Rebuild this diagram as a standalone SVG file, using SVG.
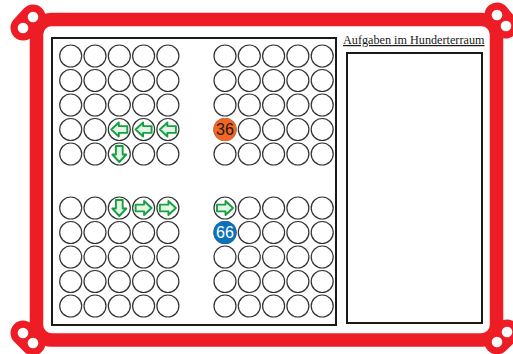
<svg xmlns="http://www.w3.org/2000/svg" xmlns:xlink="http://www.w3.org/1999/xlink" width="513" height="354" viewBox="0 0 513 354">
  <style>
    .frame { fill: none; stroke: #ee1c24; stroke-width: 13.5; }
    .lobe { stroke: #ee1c24; stroke-width: 25; stroke-linecap: round; }
    .hole { fill: #ffffff; }
    .box { fill: #ffffff; stroke: #1a1a1a; stroke-width: 2; }
    .c { fill: #ffffff; stroke: #333333; stroke-width: 1.2; }
    .arrow { fill: #e4f5e8; stroke: #16a040; stroke-width: 1.9; stroke-linejoin: round; }
    .title { font-family: "Liberation Serif", "Times New Roman", serif; font-size: 12.2px; fill: #1a1a1a; text-decoration: underline; }
    .num { font-family: "Liberation Sans", Arial, sans-serif; font-size: 16px; text-anchor: middle; }
  </style>
  <defs>
    <g id="row5">
      <circle class="c" cx="0" cy="0" r="11"/>
      <circle class="c" cx="24.3" cy="0" r="11"/>
      <circle class="c" cx="48.6" cy="0" r="11"/>
      <circle class="c" cx="72.9" cy="0" r="11"/>
      <circle class="c" cx="97.2" cy="0" r="11"/>
    </g>
    <path id="arr" class="arrow" d="M-8,-3.4 H0.5 V-7 L8,0 L0.5,7 V3.4 H-8 Z"/>
  </defs>

  <rect width="513" height="354" fill="#ffffff"/>

  <g id="frame">
    <rect class="frame" x="36.5" y="19.5" width="460" height="320.5" rx="15"/>
    <line class="lobe" x1="33" y1="17" x2="23" y2="28"/>
    <line class="lobe" x1="497" y1="15" x2="506" y2="26"/>
    <line class="lobe" x1="23" y1="333" x2="33" y2="343"/>
    <line class="lobe" x1="497" y1="342" x2="507" y2="332"/>
    <circle class="hole" cx="33" cy="17" r="5.3"/>
    <circle class="hole" cx="23" cy="28" r="5.3"/>
    <circle class="hole" cx="497" cy="15" r="5.3"/>
    <circle class="hole" cx="506" cy="26" r="5.3"/>
    <circle class="hole" cx="23" cy="333" r="5.3"/>
    <circle class="hole" cx="33" cy="343" r="5.3"/>
    <circle class="hole" cx="497" cy="342" r="5.3"/>
    <circle class="hole" cx="507" cy="332" r="5.3"/>
  </g>

  <g id="board">
    <rect class="box" x="52" y="38" width="284" height="287"/>
  </g>

  <g id="tasks">
    <text class="title" x="343" y="44">Aufgaben im Hunderterraum</text>
    <rect class="box" x="347" y="53" width="135" height="270"/>
  </g>

  <g id="grid-top-left">
    <use xlink:href="#row5" x="70.7" y="56"/>
    <use xlink:href="#row5" x="70.7" y="80.5"/>
    <use xlink:href="#row5" x="70.7" y="105"/>
    <use xlink:href="#row5" x="70.7" y="129.5"/>
    <use xlink:href="#row5" x="70.7" y="154"/>
  </g>
  <g id="grid-top-right">
    <use xlink:href="#row5" x="225" y="56"/>
    <use xlink:href="#row5" x="225" y="80.5"/>
    <use xlink:href="#row5" x="225" y="105"/>
    <use xlink:href="#row5" x="225" y="129.5"/>
    <use xlink:href="#row5" x="225" y="154"/>
  </g>
  <g id="grid-bottom-left">
    <use xlink:href="#row5" x="70.7" y="208"/>
    <use xlink:href="#row5" x="70.7" y="232.5"/>
    <use xlink:href="#row5" x="70.7" y="257"/>
    <use xlink:href="#row5" x="70.7" y="281.5"/>
    <use xlink:href="#row5" x="70.7" y="306"/>
  </g>
  <g id="grid-bottom-right">
    <use xlink:href="#row5" x="225" y="208"/>
    <use xlink:href="#row5" x="225" y="232.5"/>
    <use xlink:href="#row5" x="225" y="257"/>
    <use xlink:href="#row5" x="225" y="281.5"/>
    <use xlink:href="#row5" x="225" y="306"/>
  </g>

  <g id="arrows-top-left">
    <use xlink:href="#arr" transform="translate(119.3,129.5) rotate(180)"/>
    <use xlink:href="#arr" transform="translate(143.6,129.5) rotate(180)"/>
    <use xlink:href="#arr" transform="translate(167.9,129.5) rotate(180)"/>
    <use xlink:href="#arr" transform="translate(119.3,154) rotate(90)"/>
  </g>
  <g id="arrows-bottom-left">
    <use xlink:href="#arr" transform="translate(119.3,208) rotate(90)"/>
    <use xlink:href="#arr" transform="translate(143.6,208)"/>
    <use xlink:href="#arr" transform="translate(167.9,208)"/>
  </g>
  <g id="arrow-bottom-right">
    <use xlink:href="#arr" transform="translate(225,208)"/>
  </g>

  <g id="num36">
    <circle cx="225" cy="129.5" r="11.5" fill="#f26522"/>
    <text class="num" x="225" y="135.3" fill="#1a1a1a">36</text>
  </g>
  <g id="num66">
    <circle cx="225" cy="232.5" r="11.5" fill="#0b72b9"/>
    <text class="num" x="225" y="238.3" fill="#ffffff">66</text>
  </g>
</svg>
